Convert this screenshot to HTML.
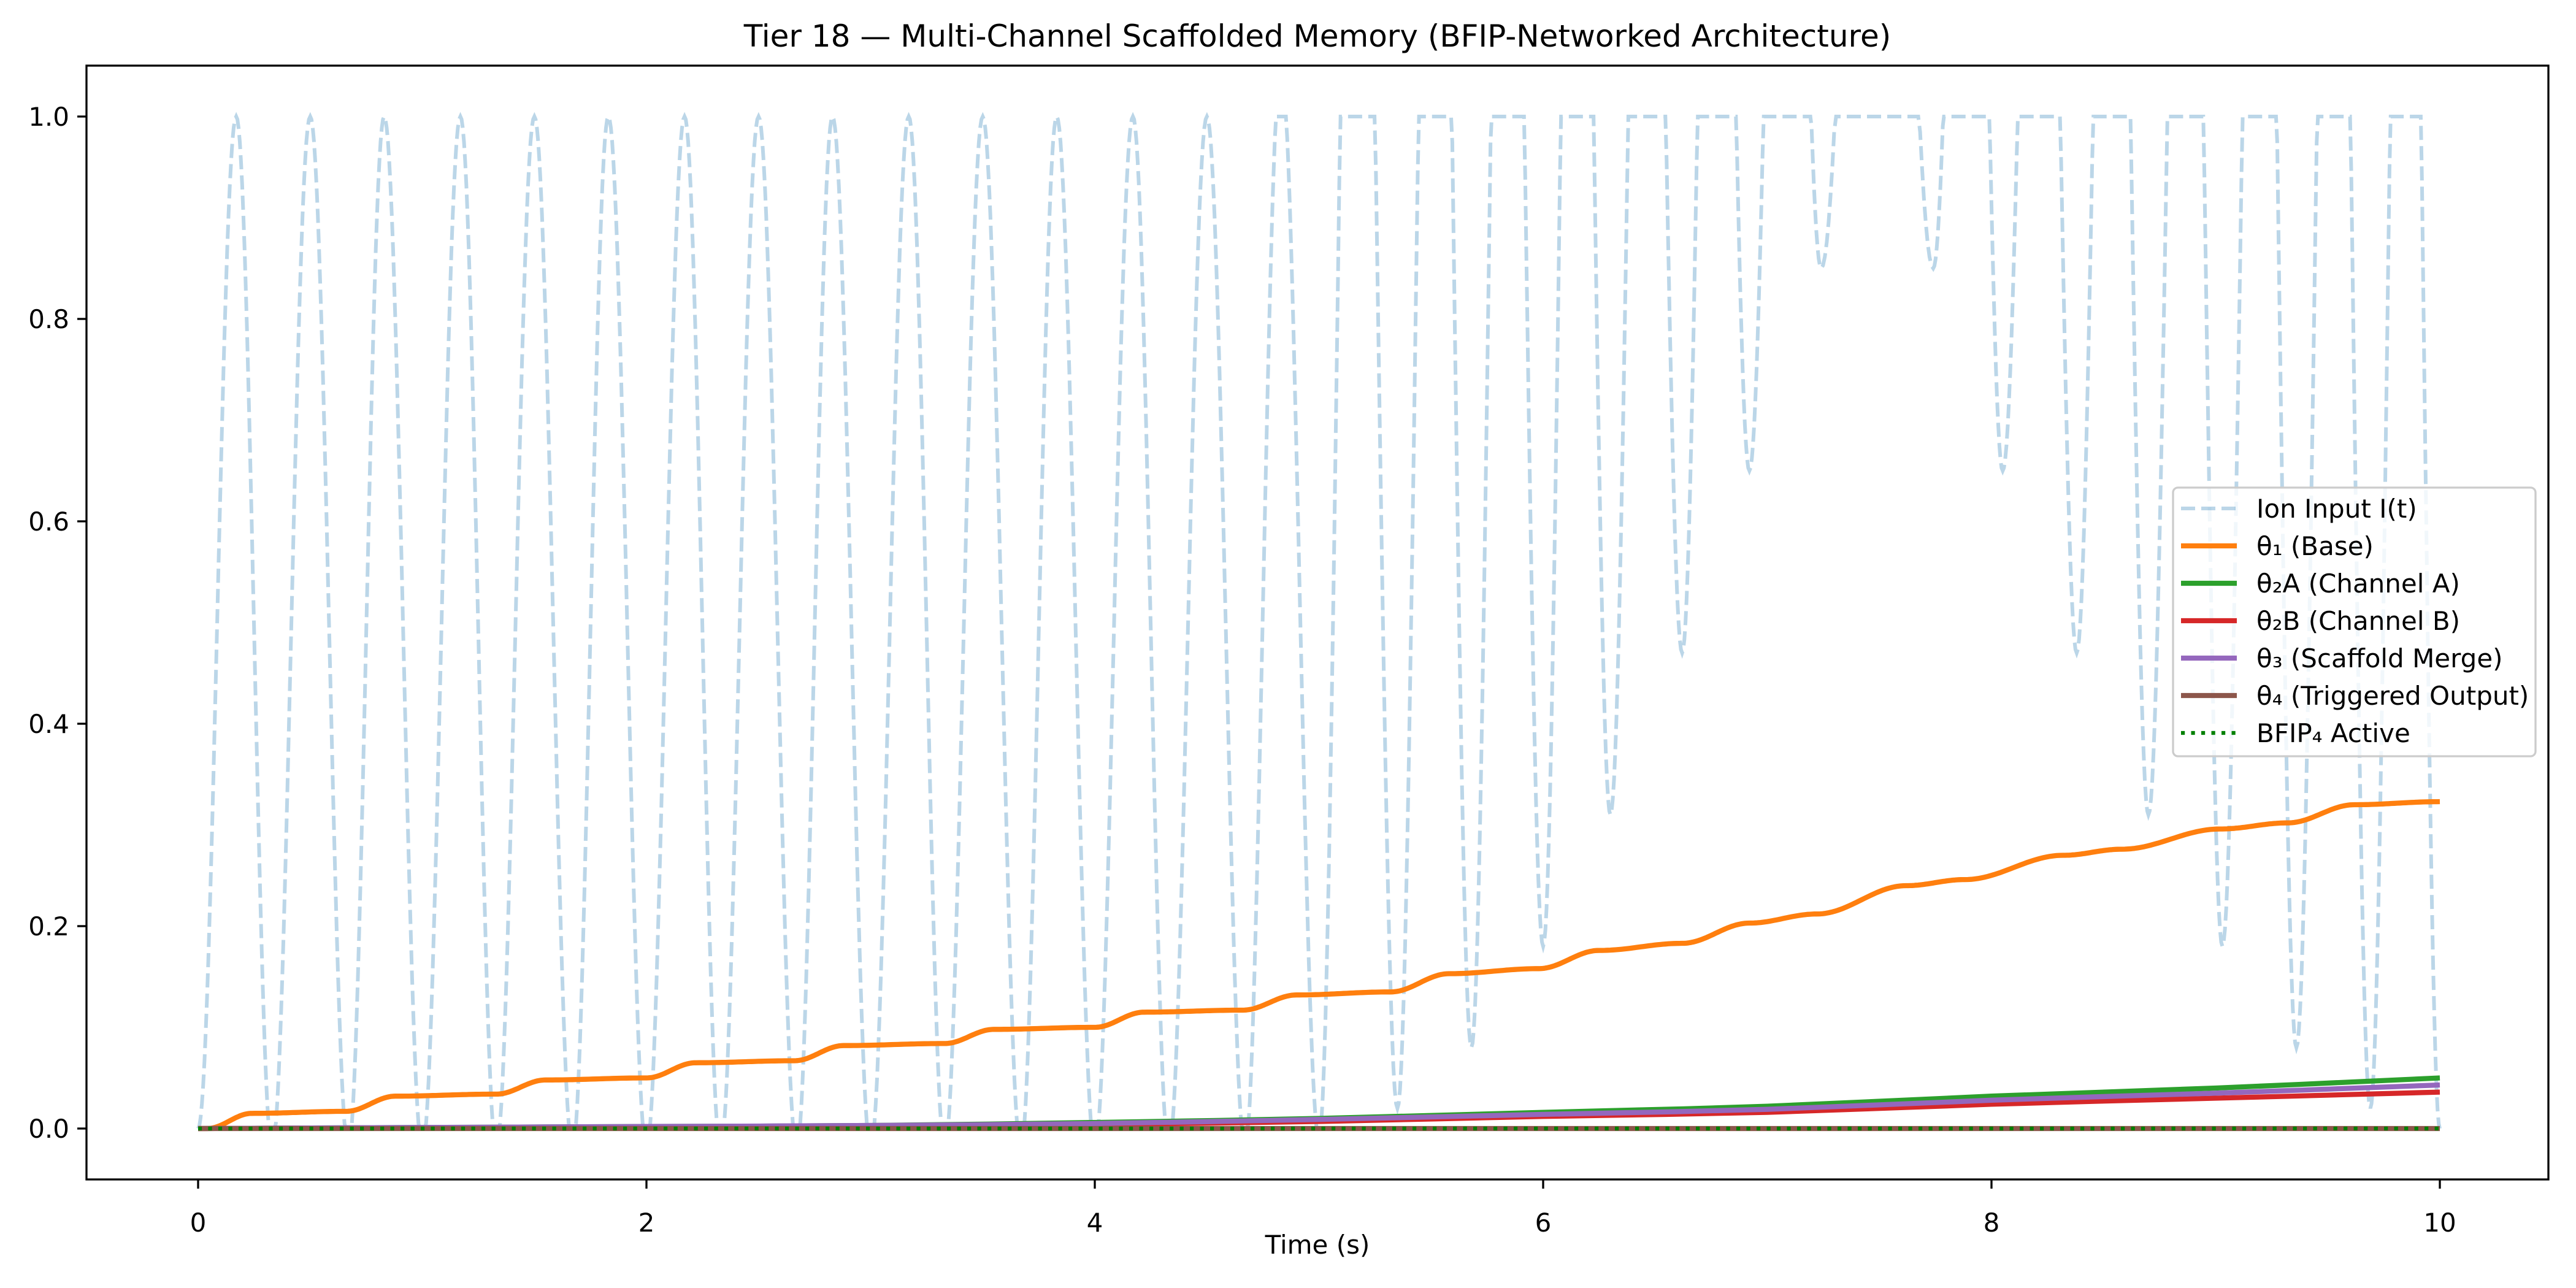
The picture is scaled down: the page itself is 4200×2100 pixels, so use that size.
<!DOCTYPE html>
<html><head><meta charset="utf-8">
<style>
html,body{margin:0;padding:0;background:#fff;}
svg{display:block;font-family:"DejaVu Sans","Liberation Sans",sans-serif;}
</style></head>
<body>
<svg id="chart" width="4200" height="2100" viewBox="0 0 4200 2100" xmlns="http://www.w3.org/2000/svg">
<rect x="0" y="0" width="4200" height="2100" fill="#fff"/>
<text x="2148" y="76" font-size="50" text-anchor="middle">Tier 18 — Multi-Channel Scaffolded Memory (BFIP-Networked Architecture)</text>
<defs><clipPath id="plotclip"><rect x="141" y="107" width="4014" height="1816"/></clipPath></defs>
<g id="series" clip-path="url(#plotclip)"></g>
<g id="axes"></g>
<g id="legend"></g>
<text x="2148" y="2044" font-size="42" text-anchor="middle">Time (s)</text>
</svg>
<script>
// ---- data ----
const xTicks = [0, 2, 4, 6, 8, 10];
const yTicks = [0.0, 0.2, 0.4, 0.6, 0.8, 1.0];
const yTickLabels = ["0.0", "0.2", "0.4", "0.6", "0.8", "1.0"];
// Ion input extrema (unclipped), times and values
const ionTimes = [0, 0.17, 0.33, 0.5, 0.67, 0.83, 1.0, 1.17, 1.33, 1.5, 1.67, 1.83, 2.0, 2.17, 2.33, 2.5, 2.67, 2.83, 3.0, 3.17, 3.33, 3.5, 3.67, 3.83, 4.0, 4.17, 4.33, 4.5, 4.67, 4.83, 5.0, 5.17, 5.35, 5.52, 5.68, 5.84, 6.0, 6.15, 6.3, 6.46, 6.62, 6.77, 6.92, 7.08, 7.24, 7.49, 7.74, 7.9, 8.05, 8.22, 8.38, 8.54, 8.7, 8.87, 9.03, 9.2, 9.36, 9.53, 9.69, 9.85, 10.0];
const ionValues = [0, 1.0, -0.02, 1.0, -0.02, 1.0, -0.02, 1.0, -0.02, 1.0, -0.02, 1.0, -0.02, 1.0, -0.02, 1.0, -0.02, 1.0, -0.02, 1.0, -0.02, 1.0, -0.02, 1.0, -0.02, 1.0, -0.02, 1.0, -0.02, 1.05, -0.01, 1.7, 0.02, 1.7, 0.08, 1.7, 0.18, 1.7, 0.31, 1.7, 0.47, 1.7, 0.65, 1.7, 0.85, 1.9, 0.85, 1.7, 0.65, 1.7, 0.47, 1.7, 0.31, 1.7, 0.18, 1.7, 0.08, 1.7, 0.02, 1.7, 0.0];
const baseTimes = [0, 0.04, 0.24, 0.66, 0.88, 1.33, 1.55, 2.0, 2.22, 2.66, 2.88, 3.33, 3.55, 4.0, 4.22, 4.66, 4.9, 5.32, 5.58, 5.98, 6.25, 6.62, 6.92, 7.22, 7.62, 7.88, 8.32, 8.58, 9.02, 9.32, 9.62, 10];
const baseValues = [0, 0, 0.015, 0.017, 0.032, 0.034, 0.048, 0.050, 0.065, 0.067, 0.082, 0.084, 0.098, 0.100, 0.115, 0.117, 0.132, 0.135, 0.153, 0.158, 0.176, 0.183, 0.203, 0.212, 0.240, 0.246, 0.270, 0.276, 0.296, 0.302, 0.320, 0.323];
const chanTimes = [0, 1, 2, 3, 4, 5, 6, 7, 8, 9, 10];
const chanAValues = [0, 0.001, 0.002, 0.003, 0.006, 0.010, 0.016, 0.022, 0.032, 0.040, 0.050];
const chanBValues = [0, 0.0008, 0.0015, 0.0025, 0.004, 0.007, 0.012, 0.016, 0.024, 0.030, 0.036];
const mergeValues = [0, 0.001, 0.002, 0.003, 0.005, 0.009, 0.014, 0.019, 0.028, 0.035, 0.043];
const outputValues = [0, 0, 0, 0, 0, 0, 0, 0, 0, 0, 0];
const bfipValues = [0, 0, 0, 0, 0, 0, 0, 0, 0, 0, 0];
const legendLabels = ["Ion Input I(t)", "θ₁ (Base)", "θ₂A (Channel A)", "θ₂B (Channel B)", "θ₃ (Scaffold Merge)", "θ₄ (Triggered Output)", "BFIP₄ Active"];

// ---- axis functions ----
const X0 = 323, XPU = 365.5, Y0 = 1840, YPU = 1650;
const xs = t => X0 + t * XPU;
const ys = v => Y0 - v * YPU;
const NS = "http://www.w3.org/2000/svg";
function mk(tag, attrs, parent) {
  const e = document.createElementNS(NS, tag);
  for (const k in attrs) e.setAttribute(k, attrs[k]);
  parent.appendChild(e);
  return e;
}
const series = document.getElementById('series');
const axes = document.getElementById('axes');
const legend = document.getElementById('legend');

// cosine interpolation between points, optional clip to [0,1]
function cosPath(ts, vs, clip) {
  let d = "";
  for (let i = 0; i < ts.length - 1; i++) {
    const t0 = ts[i], t1 = ts[i + 1], v0 = vs[i], v1 = vs[i + 1];
    const n = 30;
    for (let k = (i === 0 ? 0 : 1); k <= n; k++) {
      const s = k / n;
      const w = (1 - Math.cos(Math.PI * s)) / 2;
      let v = v0 + (v1 - v0) * w;
      if (clip) v = Math.max(0, Math.min(1, v));
      const t = t0 + (t1 - t0) * s;
      d += (d ? "L" : "M") + xs(t).toFixed(1) + "," + ys(v).toFixed(1);
    }
  }
  return d;
}
function smoothPath(ts, vs) {
  const p = ts.map((t, i) => [xs(t), ys(vs[i])]);
  let d = "M" + p[0][0].toFixed(1) + "," + p[0][1].toFixed(1);
  for (let i = 0; i < p.length - 1; i++) {
    const a = p[Math.max(0, i - 1)], b = p[i], c = p[i + 1], e = p[Math.min(p.length - 1, i + 2)];
    const c1 = [b[0] + (c[0] - a[0]) / 6, b[1] + (c[1] - a[1]) / 6];
    const c2 = [c[0] - (e[0] - b[0]) / 6, c[1] - (e[1] - b[1]) / 6];
    d += "C" + c1[0].toFixed(1) + "," + c1[1].toFixed(1) + " " + c2[0].toFixed(1) + "," + c2[1].toFixed(1) + " " + c[0].toFixed(1) + "," + c[1].toFixed(1);
  }
  return d;
}

let el;
el = mk('path', {d: cosPath(ionTimes, ionValues, true), fill: 'none', stroke: '#1f77b4', 'stroke-opacity': 0.3, 'stroke-width': 6, 'stroke-dasharray': '23 10'}, series);


el = mk('path', {d: cosPath(baseTimes, baseValues, false), fill: 'none', stroke: '#ff7f0e', 'stroke-width': 8.3, 'stroke-linejoin': 'round'}, series);


el = mk('path', {d: smoothPath(chanTimes, chanAValues), fill: 'none', stroke: '#2ca02c', 'stroke-width': 8.3}, series);


el = mk('path', {d: smoothPath(chanTimes, chanBValues), fill: 'none', stroke: '#d62728', 'stroke-width': 8.3}, series);


el = mk('path', {d: smoothPath(chanTimes, mergeValues), fill: 'none', stroke: '#9467bd', 'stroke-width': 8.3}, series);


el = mk('path', {d: smoothPath(chanTimes, outputValues), fill: 'none', stroke: '#8c564b', 'stroke-width': 8.3}, series);


el = mk('path', {d: smoothPath(chanTimes, bfipValues), fill: 'none', stroke: '#008000', 'stroke-width': 6.2, 'stroke-dasharray': '6.2 10.3'}, series);



// axes spines
el = mk('rect', {x: 141, y: 107, width: 4014, height: 1816, fill: 'none', stroke: '#000', 'stroke-width': 3.3}, axes);


xTicks.forEach(t => {
  el = mk('line', {x1: xs(t), x2: xs(t), y1: 1923, y2: 1938, stroke: '#000', 'stroke-width': 3.3}, axes);
  
  
  el = mk('text', {x: xs(t), y: 2008, 'font-size': 42, 'text-anchor': 'middle'}, axes);
  el.textContent = String(t);
  
  
});
yTicks.forEach((v, i) => {
  el = mk('line', {x1: 126, x2: 141, y1: ys(v), y2: ys(v), stroke: '#000', 'stroke-width': 3.3}, axes);
  
  
  el = mk('text', {x: 113, y: ys(v) + 15, 'font-size': 42, 'text-anchor': 'end'}, axes);
  el.textContent = yTickLabels[i];
  
  
});

// legend
el = mk('rect', {x: 3543, y: 795, width: 591, height: 438, rx: 8, fill: '#fff', 'fill-opacity': 0.8, stroke: '#cccccc', 'stroke-width': 3.3}, legend);


const lgColors = ['#1f77b4', '#ff7f0e', '#2ca02c', '#d62728', '#9467bd', '#8c564b', '#008000'];
legendLabels.forEach((lab, i) => {
  const y = 829 + i * 61;
  const attrs = {x1: 3556, x2: 3647, y1: y, y2: y, stroke: lgColors[i], 'stroke-width': i === 0 ? 6 : (i === 6 ? 6.2 : 8.3)};
  if (i === 0) { attrs['stroke-opacity'] = 0.3; attrs['stroke-dasharray'] = '23 10'; }
  if (i === 6) { attrs['stroke-dasharray'] = '6.2 10.3'; }
  el = mk('line', attrs, legend);
  
  
  el = mk('text', {x: 3679, y: y + 15, 'font-size': 42}, legend);
  el.textContent = lab;
  
  
});
</script>
</body></html>
